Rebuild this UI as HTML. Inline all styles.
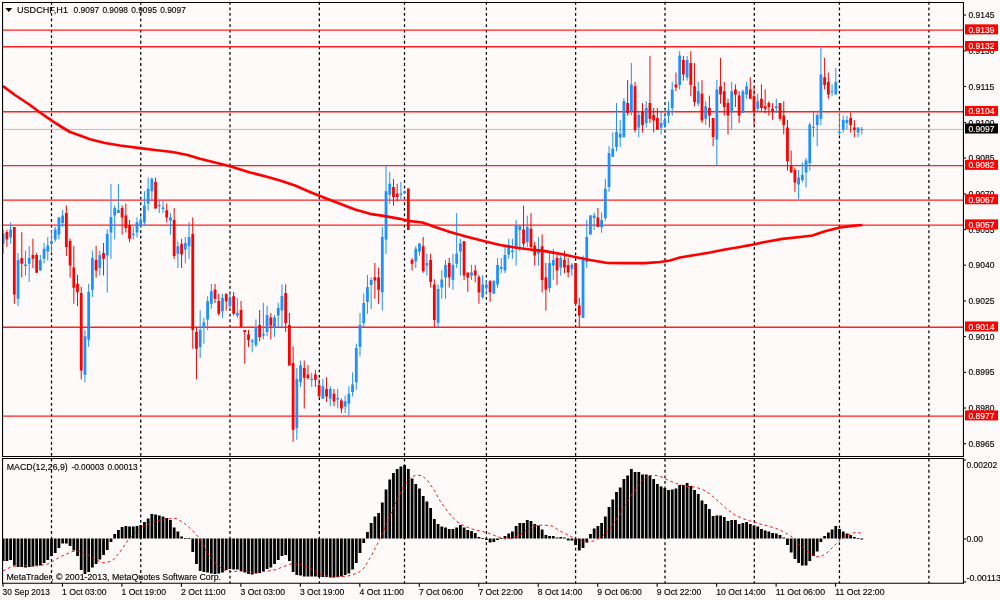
<!DOCTYPE html><html><head><meta charset="utf-8"><title>USDCHF,H1</title>
<style>html,body{margin:0;padding:0;background:#fdfaf9;overflow:hidden}svg{display:block}text{font-family:"Liberation Sans","DejaVu Sans",sans-serif;font-size:9.3px;fill:#000;stroke:#000;stroke-width:.22px;stroke-opacity:.6}.w{fill:#fff;stroke:#fff}</style></head><body>
<svg width="1000" height="600" viewBox="0 0 1000 600">
<rect width="1000" height="600" fill="#fdfaf9"/>
<g stroke="#000" stroke-width="1.25" stroke-dasharray="2.8 2.77" fill="none">
<path d="M51.50 1.85V456.45"/>
<path d="M51.50 458.7V583.25"/>
<path d="M140.75 1.85V456.45"/>
<path d="M140.75 458.7V583.25"/>
<path d="M230.00 1.85V456.45"/>
<path d="M230.00 458.7V583.25"/>
<path d="M319.35 1.85V456.45"/>
<path d="M319.35 458.7V583.25"/>
<path d="M404.50 1.85V456.45"/>
<path d="M404.50 458.7V583.25"/>
<path d="M486.40 1.85V456.45"/>
<path d="M486.40 458.7V583.25"/>
<path d="M575.60 1.85V456.45"/>
<path d="M575.60 458.7V583.25"/>
<path d="M665.00 1.85V456.45"/>
<path d="M665.00 458.7V583.25"/>
<path d="M754.30 1.85V456.45"/>
<path d="M754.30 458.7V583.25"/>
<path d="M839.45 1.85V456.45"/>
<path d="M839.45 458.7V583.25"/>
<path d="M928.90 1.85V456.45"/>
<path d="M928.90 458.7V583.25"/>
</g>
<path d="M3 129.45H963" stroke="#b9b9b9" stroke-width="0.93"/>
<g stroke="#ff2020" stroke-width="1.3">
<path d="M3 30.15H963"/>
<path d="M3 46.75H963"/>
<path d="M3 111.75H963"/>
<path d="M3 165.65H963"/>
<path d="M3 200.05H963"/>
<path d="M3 225.20H963"/>
<path d="M3 327.25H963"/>
<path d="M3 416.20H963"/>
</g>
<clipPath id="cp"><rect x="3.05" y="3" width="960" height="453"/></clipPath><g id="candles" clip-path="url(#cp)">
<path d="M3.18 229.40V253.75M10.61 222.25V243.75M18.05 253.00V306.00M25.48 250.60V275.60M29.20 246.00V282.00M40.35 255.00V270.60M44.07 243.00V263.50M47.78 237.00V260.60M51.50 231.00V252.00M55.22 226.90V241.90M58.94 216.90V239.40M62.65 210.00V226.90M84.95 330.00V382.25M88.67 283.75V346.90M92.39 250.60V297.00M99.82 250.60V275.60M107.26 229.40V292.50M110.97 184.00V258.75M114.69 205.40V239.40M118.41 184.00V213.00M133.28 226.90V239.40M136.99 217.50V237.50M140.71 215.60V226.90M144.43 191.25V225.00M148.14 177.50V210.60M151.86 177.50V201.25M159.29 200.60V213.00M163.01 200.60V213.00M170.45 213.00V234.75M177.88 241.50V268.00M185.31 237.00V263.50M189.03 222.25V258.75M200.18 310.25V358.00M203.90 317.75V343.75M207.62 296.25V330.00M211.33 284.00V308.75M222.48 293.75V318.00M229.92 292.00V310.00M237.35 298.00V318.00M252.22 338.75V351.90M255.94 319.40V346.90M263.37 302.75V339.40M267.09 305.60V336.25M274.52 315.00V336.90M278.24 302.75V327.50M281.96 284.40V327.50M296.82 368.00V439.75M300.54 360.60V386.90M311.69 372.75V386.90M322.84 379.00V398.75M330.28 386.25V406.25M337.71 389.00V408.50M345.14 395.60V413.00M348.86 386.25V415.60M352.58 372.50V396.50M356.30 343.75V390.00M360.01 313.00V356.50M363.73 293.40V327.40M367.45 275.00V313.75M371.16 277.25V309.00M382.31 226.90V310.60M386.03 165.00V254.00M389.75 171.90V203.75M400.90 181.90V199.40M404.62 190.50V194.00M415.77 246.25V268.00M419.48 243.00V255.60M426.92 253.75V275.60M438.07 284.40V327.25M441.79 270.25V298.75M445.50 260.00V298.75M452.94 253.75V289.75M456.65 213.00V268.00M460.37 238.75V275.60M471.52 265.00V280.00M482.67 275.00V298.75M486.39 280.00V293.75M493.82 280.00V293.75M497.54 258.00V287.75M501.26 258.00V273.00M504.98 247.00V273.00M508.69 238.75V258.75M512.41 238.75V258.75M516.13 220.00V265.60M519.84 225.00V251.25M527.28 215.60V247.00M538.43 236.90V265.60M549.58 251.25V292.50M553.30 248.75V280.00M560.73 255.60V275.60M571.88 263.00V275.60M583.03 255.60V318.00M586.75 220.00V268.00M590.47 215.00V234.60M594.18 212.50V230.00M601.62 212.50V232.75M605.33 179.00V220.60M609.05 146.25V191.90M612.77 132.50V156.90M616.49 103.00V151.25M620.20 120.00V146.90M623.92 98.00V137.25M631.35 63.00V115.60M638.79 110.60V137.25M646.22 101.25V127.50M661.09 110.60V134.40M664.81 113.00V127.50M668.52 101.25V123.00M672.24 81.90V115.60M679.67 51.25V89.40M687.11 56.00V80.60M698.26 81.90V106.25M705.69 101.25V125.00M716.84 80.00V165.60M731.71 81.90V129.40M742.86 89.40V113.00M746.58 81.90V98.75M757.73 93.75V111.25M776.32 98.75V113.00M798.62 170.00V199.40M802.33 162.50V182.50M806.05 158.00V187.50M809.77 122.50V170.60M813.49 110.60V136.90M817.20 112.50V146.25M820.92 46.25V125.00M832.07 84.40V96.25M835.79 68.00V94.40M839.50 112.50V136.00M843.22 115.60V132.50M846.94 115.60V129.40M858.09 127.50V137.25M861.81 126.90V134.40" stroke="#1e90ff" stroke-width="1.0" fill="none"/>
<path d="M1.79 233.75h2.79V243.75h-2.79zM9.22 229.40h2.79V237.50h-2.79zM16.65 260.00h2.79V298.75h-2.79zM24.09 264.40h2.79V266.00h-2.79zM27.80 258.00h2.79V263.75h-2.79zM38.95 260.00h2.79V270.60h-2.79zM42.67 248.75h2.79V258.75h-2.79zM46.39 245.60h2.79V251.50h-2.79zM50.11 241.00h2.79V243.75h-2.79zM53.82 229.40h2.79V239.40h-2.79zM57.54 217.50h2.79V234.40h-2.79zM61.26 215.60h2.79V223.00h-2.79zM83.56 336.25h2.79V374.75h-2.79zM87.28 292.00h2.79V339.75h-2.79zM90.99 258.00h2.79V289.75h-2.79zM98.43 255.00h2.79V268.00h-2.79zM105.86 234.00h2.79V255.60h-2.79zM109.58 217.00h2.79V232.50h-2.79zM113.30 208.00h2.79V215.60h-2.79zM117.01 210.00h2.79V213.00h-2.79zM131.88 233.75h2.79V235.00h-2.79zM135.60 222.25h2.79V232.50h-2.79zM139.31 220.00h2.79V225.00h-2.79zM143.03 205.60h2.79V222.50h-2.79zM146.75 188.75h2.79V203.50h-2.79zM150.47 178.75h2.79V191.25h-2.79zM157.90 205.00h2.79V206.25h-2.79zM161.62 207.50h2.79V209.00h-2.79zM169.05 217.50h2.79V220.60h-2.79zM176.48 246.25h2.79V253.75h-2.79zM183.92 243.00h2.79V249.40h-2.79zM187.63 237.00h2.79V246.25h-2.79zM198.79 330.00h2.79V346.90h-2.79zM202.50 322.50h2.79V328.00h-2.79zM206.22 301.25h2.79V319.40h-2.79zM209.94 291.25h2.79V303.75h-2.79zM221.09 298.00h2.79V311.25h-2.79zM228.52 298.00h2.79V306.25h-2.79zM235.96 313.00h2.79V315.60h-2.79zM250.82 340.60h2.79V341.90h-2.79zM254.54 326.90h2.79V345.00h-2.79zM261.98 333.75h2.79V335.60h-2.79zM265.69 315.00h2.79V331.90h-2.79zM273.13 317.50h2.79V327.50h-2.79zM276.84 308.00h2.79V315.60h-2.79zM280.56 296.00h2.79V310.60h-2.79zM295.43 379.00h2.79V428.00h-2.79zM299.15 365.25h2.79V382.25h-2.79zM310.30 378.75h2.79V380.00h-2.79zM321.45 386.25h2.79V398.75h-2.79zM328.88 389.00h2.79V398.75h-2.79zM336.32 398.00h2.79V399.40h-2.79zM343.75 401.25h2.79V406.50h-2.79zM347.47 393.75h2.79V403.75h-2.79zM351.18 384.40h2.79V391.90h-2.79zM354.90 348.00h2.79V382.25h-2.79zM358.62 325.00h2.79V346.90h-2.79zM362.33 302.90h2.79V323.00h-2.79zM366.05 286.90h2.79V301.90h-2.79zM369.77 280.00h2.79V285.00h-2.79zM380.92 236.90h2.79V292.30h-2.79zM384.64 191.25h2.79V239.40h-2.79zM388.35 183.75h2.79V194.75h-2.79zM399.50 193.50h2.79V194.75h-2.79zM403.22 191.25h2.79V193.00h-2.79zM414.37 248.75h2.79V261.25h-2.79zM418.09 243.50h2.79V251.50h-2.79zM425.52 263.00h2.79V265.60h-2.79zM436.67 289.00h2.79V322.75h-2.79zM440.39 279.40h2.79V287.50h-2.79zM444.11 265.00h2.79V277.50h-2.79zM451.54 265.00h2.79V280.00h-2.79zM455.26 253.75h2.79V263.75h-2.79zM458.98 243.50h2.79V251.50h-2.79zM470.13 272.40h2.79V275.60h-2.79zM481.28 284.40h2.79V297.25h-2.79zM485.00 284.40h2.79V287.75h-2.79zM492.43 281.25h2.79V293.75h-2.79zM496.15 265.00h2.79V284.40h-2.79zM499.86 267.00h2.79V268.75h-2.79zM503.58 255.00h2.79V270.60h-2.79zM507.30 245.60h2.79V254.40h-2.79zM511.01 250.60h2.79V252.00h-2.79zM514.73 225.00h2.79V247.00h-2.79zM518.45 226.25h2.79V230.00h-2.79zM525.88 226.90h2.79V241.90h-2.79zM537.03 248.75h2.79V253.75h-2.79zM548.18 263.00h2.79V288.00h-2.79zM551.90 260.00h2.79V265.60h-2.79zM559.34 258.00h2.79V267.50h-2.79zM570.49 264.40h2.79V268.75h-2.79zM581.64 260.00h2.79V318.00h-2.79zM585.35 236.90h2.79V262.00h-2.79zM589.07 215.60h2.79V234.60h-2.79zM592.79 215.60h2.79V218.00h-2.79zM600.22 220.00h2.79V227.25h-2.79zM603.94 188.75h2.79V218.00h-2.79zM607.66 153.00h2.79V186.90h-2.79zM611.37 148.75h2.79V156.70h-2.79zM615.09 131.90h2.79V146.90h-2.79zM618.81 133.75h2.79V137.50h-2.79zM622.52 101.25h2.79V137.25h-2.79zM629.96 84.40h2.79V111.25h-2.79zM637.39 115.00h2.79V127.50h-2.79zM644.83 108.00h2.79V123.00h-2.79zM659.69 123.00h2.79V127.50h-2.79zM663.41 120.00h2.79V125.00h-2.79zM667.13 110.60h2.79V115.60h-2.79zM670.85 89.40h2.79V108.00h-2.79zM678.28 55.60h2.79V85.00h-2.79zM685.71 60.00h2.79V77.50h-2.79zM696.86 91.25h2.79V103.60h-2.79zM704.30 106.25h2.79V118.75h-2.79zM715.45 89.40h2.79V139.40h-2.79zM730.32 91.25h2.79V112.50h-2.79zM741.47 91.25h2.79V113.00h-2.79zM745.18 86.25h2.79V94.40h-2.79zM756.34 101.25h2.79V108.75h-2.79zM774.92 106.25h2.79V108.00h-2.79zM797.22 177.50h2.79V184.40h-2.79zM800.94 175.00h2.79V180.00h-2.79zM804.66 160.60h2.79V172.50h-2.79zM808.37 124.40h2.79V163.00h-2.79zM812.09 126.90h2.79V128.00h-2.79zM815.81 115.00h2.79V125.00h-2.79zM819.52 74.40h2.79V118.75h-2.79zM830.68 91.25h2.79V92.25h-2.79zM834.39 81.90h2.79V94.40h-2.79zM838.11 131.90h2.79V133.00h-2.79zM841.83 120.00h2.79V129.40h-2.79zM845.54 120.00h2.79V123.00h-2.79zM856.69 127.50h2.79V132.50h-2.79zM860.41 129.00h2.79V130.00h-2.79z" fill="#1e90ff"/>
<path d="M6.90 229.75V247.00M14.33 227.00V303.75M21.77 232.00V277.50M32.92 238.75V268.00M36.63 253.00V272.75M66.37 205.40V256.00M70.09 238.50V277.50M73.80 246.00V303.75M77.52 275.00V306.00M81.24 287.00V379.40M96.11 246.00V277.50M103.54 243.00V275.60M122.12 205.40V234.40M125.84 203.75V232.50M129.56 220.00V242.25M155.58 177.50V208.50M166.73 203.50V222.50M174.16 208.00V258.75M181.60 238.75V268.00M192.75 217.50V348.75M196.46 327.50V379.40M215.05 284.00V303.00M218.77 293.75V315.60M226.20 293.75V310.60M233.63 292.00V315.60M241.07 301.00V326.90M244.79 330.00V363.75M248.50 330.00V346.90M259.65 310.00V341.25M270.80 313.00V339.40M285.67 284.40V331.90M289.39 313.00V365.60M293.11 346.25V441.90M304.26 360.60V408.50M307.97 365.25V379.75M315.41 370.00V386.90M319.12 379.00V396.50M326.56 377.25V401.90M333.99 389.00V406.25M341.43 398.50V413.00M374.88 263.00V298.75M378.60 267.50V303.75M393.47 179.00V205.60M397.18 183.75V201.25M408.33 188.50V230.00M412.05 258.00V270.60M423.20 236.90V272.90M430.63 253.75V287.50M434.35 279.40V327.25M449.22 258.00V287.50M464.09 241.25V280.00M467.81 272.50V291.90M475.24 265.00V282.25M478.96 275.00V303.75M490.11 280.00V301.90M523.56 205.60V247.00M530.99 213.00V248.75M534.71 241.90V265.60M542.14 234.40V292.50M545.86 263.00V310.60M557.01 255.00V284.75M564.45 250.60V273.00M568.16 258.00V277.50M575.60 263.00V306.25M579.31 298.00V327.50M597.90 208.00V226.90M627.64 80.00V115.60M635.07 81.90V132.50M642.50 103.00V132.50M649.94 56.00V123.00M653.65 108.00V132.50M657.37 108.00V129.75M675.96 72.50V91.25M683.39 56.00V80.60M690.82 51.25V96.25M694.54 63.00V106.25M701.98 80.00V123.00M709.41 95.60V127.50M713.13 118.00V146.25M720.56 58.00V103.75M724.28 81.90V115.60M728.00 98.75V134.40M735.43 84.40V106.90M739.15 91.25V123.00M750.30 77.25V98.75M754.01 86.25V125.60M761.45 84.40V111.25M765.16 89.40V113.00M768.88 101.25V115.60M772.60 103.00V120.00M780.03 103.00V120.60M783.75 101.25V134.40M787.47 120.00V170.60M791.18 150.60V172.50M794.90 167.50V191.90M824.64 57.75V89.40M828.35 72.50V98.75M850.66 112.50V132.50M854.37 120.00V137.25" stroke="#ff0000" stroke-width="1.0" fill="none"/>
<path d="M5.50 231.90h2.79V239.40h-2.79zM12.94 227.00h2.79V294.40h-2.79zM20.37 258.00h2.79V263.75h-2.79zM31.52 255.00h2.79V258.75h-2.79zM35.24 255.00h2.79V272.75h-2.79zM64.97 213.00h2.79V246.90h-2.79zM68.69 241.00h2.79V265.60h-2.79zM72.41 267.50h2.79V287.75h-2.79zM76.13 283.75h2.79V292.25h-2.79zM79.84 293.00h2.79V370.60h-2.79zM94.71 260.00h2.79V270.60h-2.79zM102.14 253.00h2.79V258.75h-2.79zM120.73 208.00h2.79V217.50h-2.79zM124.45 215.60h2.79V228.00h-2.79zM128.16 225.00h2.79V238.75h-2.79zM154.18 181.90h2.79V208.50h-2.79zM165.33 210.25h2.79V217.50h-2.79zM172.77 220.00h2.79V256.00h-2.79zM180.20 243.75h2.79V254.40h-2.79zM191.35 234.00h2.79V330.00h-2.79zM195.07 331.90h2.79V348.75h-2.79zM213.65 289.40h2.79V298.75h-2.79zM217.37 301.00h2.79V313.75h-2.79zM224.81 293.75h2.79V301.25h-2.79zM232.24 296.25h2.79V313.75h-2.79zM239.67 310.00h2.79V326.90h-2.79zM243.39 330.00h2.79V332.00h-2.79zM247.11 334.40h2.79V340.00h-2.79zM258.26 325.00h2.79V336.90h-2.79zM269.41 317.50h2.79V325.60h-2.79zM284.28 293.00h2.79V323.00h-2.79zM287.99 325.00h2.79V365.60h-2.79zM291.71 363.00h2.79V429.75h-2.79zM302.86 368.00h2.79V377.75h-2.79zM306.58 374.40h2.79V378.00h-2.79zM314.01 374.40h2.79V379.75h-2.79zM317.73 385.00h2.79V396.50h-2.79zM325.16 389.00h2.79V396.50h-2.79zM332.60 393.75h2.79V401.50h-2.79zM340.03 400.60h2.79V408.50h-2.79zM373.49 277.25h2.79V280.60h-2.79zM377.20 277.25h2.79V289.75h-2.79zM392.07 186.90h2.79V196.90h-2.79zM395.79 193.75h2.79V196.90h-2.79zM406.94 188.50h2.79V230.00h-2.79zM410.66 260.00h2.79V263.75h-2.79zM421.81 246.25h2.79V271.25h-2.79zM429.24 260.00h2.79V281.90h-2.79zM432.96 284.40h2.79V320.00h-2.79zM447.83 263.00h2.79V277.50h-2.79zM462.69 241.25h2.79V275.60h-2.79zM466.41 272.50h2.79V277.50h-2.79zM473.84 270.60h2.79V275.60h-2.79zM477.56 276.90h2.79V292.50h-2.79zM488.71 281.25h2.79V292.25h-2.79zM522.16 229.40h2.79V243.75h-2.79zM529.60 228.75h2.79V247.00h-2.79zM533.32 245.60h2.79V255.60h-2.79zM540.75 246.25h2.79V280.00h-2.79zM544.47 277.50h2.79V289.40h-2.79zM555.62 258.00h2.79V270.60h-2.79zM563.05 260.00h2.79V267.50h-2.79zM566.77 265.00h2.79V272.50h-2.79zM574.20 263.00h2.79V303.75h-2.79zM577.92 305.60h2.79V315.60h-2.79zM596.50 217.50h2.79V226.90h-2.79zM626.24 103.00h2.79V113.00h-2.79zM633.67 86.25h2.79V130.00h-2.79zM641.11 111.90h2.79V125.00h-2.79zM648.54 103.00h2.79V118.75h-2.79zM652.26 115.00h2.79V120.60h-2.79zM655.98 118.00h2.79V129.75h-2.79zM674.56 84.40h2.79V87.50h-2.79zM682.00 60.00h2.79V74.40h-2.79zM689.43 63.00h2.79V85.00h-2.79zM693.15 86.25h2.79V101.90h-2.79zM700.58 93.75h2.79V120.60h-2.79zM708.01 108.00h2.79V115.60h-2.79zM711.73 118.00h2.79V136.90h-2.79zM719.17 86.25h2.79V94.40h-2.79zM722.88 91.25h2.79V106.90h-2.79zM726.60 103.00h2.79V115.60h-2.79zM734.03 89.40h2.79V94.40h-2.79zM737.75 95.60h2.79V115.60h-2.79zM748.90 89.40h2.79V98.75h-2.79zM752.62 96.25h2.79V111.25h-2.79zM760.05 98.75h2.79V108.00h-2.79zM763.77 106.25h2.79V108.75h-2.79zM767.49 103.00h2.79V106.90h-2.79zM771.20 108.75h2.79V111.25h-2.79zM778.64 103.00h2.79V118.75h-2.79zM782.36 115.60h2.79V125.00h-2.79zM786.07 127.50h2.79V161.25h-2.79zM789.79 165.60h2.79V172.50h-2.79zM793.51 170.00h2.79V182.50h-2.79zM823.24 77.25h2.79V85.00h-2.79zM826.96 81.90h2.79V94.40h-2.79zM849.26 118.00h2.79V125.00h-2.79zM852.98 127.50h2.79V130.00h-2.79z" fill="#ff0000"/>
</g>
<polyline points="3.0,86.2 15.0,95.0 30.0,105.0 40.0,112.5 52.5,121.2 62.5,127.5 70.0,132.0 80.0,135.5 90.0,139.2 105.0,143.0 120.0,145.5 140.0,148.2 155.0,150.0 172.5,152.0 187.5,155.0 200.0,158.8 215.0,162.5 230.0,166.2 250.0,172.5 265.0,176.2 280.0,180.5 295.0,185.5 310.0,192.0 325.0,198.0 340.0,203.8 355.0,209.5 370.0,213.8 385.0,216.2 400.0,218.8 410.0,221.2 422.5,222.5 435.0,227.0 450.0,232.0 465.0,236.2 482.5,240.8 500.0,245.0 515.0,247.5 530.0,249.5 545.0,251.2 560.0,253.8 575.0,257.0 590.0,260.0 607.5,263.0 625.0,263.2 645.0,263.2 660.0,262.0 670.0,260.5 680.0,257.5 695.0,255.0 710.0,252.5 725.0,249.5 740.0,247.0 750.0,245.2 765.0,242.0 782.5,238.8 800.0,237.0 812.5,235.5 825.0,231.2 840.0,227.5 852.5,225.8 862.5,225.0" fill="none" stroke="#ff0000" stroke-width="2.7" stroke-linejoin="round" stroke-linecap="butt"/>
<path d="M3.00 538.60H4.58V561.00H3.00zM5.50 538.60H8.29V561.00H5.50zM9.22 538.60H12.01V560.00H9.22zM12.94 538.60H15.73V565.60H12.94zM16.65 538.60H19.44V567.00H16.65zM20.37 538.60H23.16V567.00H20.37zM24.09 538.60H26.88V567.60H24.09zM27.80 538.60H30.59V567.00H27.80zM31.52 538.60H34.31V566.40H31.52zM35.24 538.60H38.03V565.60H35.24zM38.95 538.60H41.75V565.60H38.95zM42.67 538.60H45.46V563.00H42.67zM46.39 538.60H49.18V560.00H46.39zM50.11 538.60H52.90V556.00H50.11zM53.82 538.60H56.61V553.00H53.82zM57.54 538.60H60.33V548.00H57.54zM61.26 538.60H64.05V543.60H61.26zM64.97 538.60H67.76V543.60H64.97zM68.69 538.60H71.48V546.00H68.69zM72.41 538.60H75.20V550.40H72.41zM76.13 538.60H78.92V556.00H76.13zM79.84 538.60H82.63V570.00H79.84zM83.56 538.60H86.35V574.00H83.56zM87.28 538.60H90.07V572.00H87.28zM90.99 538.60H93.78V567.60H90.99zM94.71 538.60H97.50V564.00H94.71zM98.43 538.60H101.22V559.60H98.43zM102.14 538.60H104.93V555.00H102.14zM105.86 538.60H108.65V550.00H105.86zM109.58 538.60H112.37V542.00H109.58zM113.30 534.00H116.09V538.60H113.30zM117.01 530.00H119.80V538.60H117.01zM120.73 527.00H123.52V538.60H120.73zM124.45 526.00H127.24V538.60H124.45zM128.16 526.40H130.95V538.60H128.16zM131.88 526.40H134.67V538.60H131.88zM135.60 526.00H138.39V538.60H135.60zM139.31 525.00H142.10V538.60H139.31zM143.03 522.00H145.82V538.60H143.03zM146.75 518.40H149.54V538.60H146.75zM150.47 514.00H153.26V538.60H150.47zM154.18 514.60H156.97V538.60H154.18zM157.90 515.40H160.69V538.60H157.90zM161.62 516.40H164.41V538.60H161.62zM165.33 518.00H168.12V538.60H165.33zM169.05 520.00H171.84V538.60H169.05zM172.77 527.60H175.56V538.60H172.77zM176.48 531.60H179.27V538.60H176.48zM180.20 536.40H182.99V538.60H180.20zM183.92 538.15H186.71V539.05H183.92zM187.63 538.15H190.43V539.05H187.63zM191.35 538.60H194.14V552.00H191.35zM195.07 538.60H197.86V564.00H195.07zM198.79 538.60H201.58V571.00H198.79zM202.50 538.60H205.29V572.00H202.50zM206.22 538.60H209.01V572.40H206.22zM209.94 538.60H212.73V573.60H209.94zM213.65 538.60H216.44V574.00H213.65zM217.37 538.60H220.16V573.60H217.37zM221.09 538.60H223.88V572.40H221.09zM224.81 538.60H227.60V570.00H224.81zM228.52 538.60H231.31V569.00H228.52zM232.24 538.60H235.03V569.60H232.24zM235.96 538.60H238.75V569.60H235.96zM239.67 538.60H242.46V571.00H239.67zM243.39 538.60H246.18V572.40H243.39zM247.11 538.60H249.90V574.00H247.11zM250.82 538.60H253.61V574.40H250.82zM254.54 538.60H257.33V573.60H254.54zM258.26 538.60H261.05V573.00H258.26zM261.98 538.60H264.76V571.00H261.98zM265.69 538.60H268.48V569.00H265.69zM269.41 538.60H272.20V567.60H269.41zM273.13 538.60H275.92V564.00H273.13zM276.84 538.60H279.63V560.00H276.84zM280.56 538.60H283.35V556.00H280.56zM284.28 538.60H287.07V555.00H284.28zM287.99 538.60H290.78V561.00H287.99zM291.71 538.60H294.50V572.00H291.71zM295.43 538.60H298.22V575.00H295.43zM299.15 538.60H301.94V575.60H299.15zM302.86 538.60H305.65V576.40H302.86zM306.58 538.60H309.37V576.40H306.58zM310.30 538.60H313.09V576.40H310.30zM314.01 538.60H316.80V576.40H314.01zM317.73 538.60H320.52V577.00H317.73zM321.45 538.60H324.24V577.00H321.45zM325.16 538.60H327.95V577.00H325.16zM328.88 538.60H331.67V577.40H328.88zM332.60 538.60H335.39V577.40H332.60zM336.32 538.60H339.11V577.00H336.32zM340.03 538.60H342.82V576.40H340.03zM343.75 538.60H346.54V575.00H343.75zM347.47 538.60H350.26V573.60H347.47zM351.18 538.60H353.97V569.60H351.18zM354.90 538.60H357.69V563.00H354.90zM358.62 538.60H361.41V553.00H358.62zM362.33 538.60H365.12V543.00H362.33zM366.05 532.00H368.84V538.60H366.05zM369.77 523.00H372.56V538.60H369.77zM373.49 516.40H376.27V538.60H373.49zM377.20 513.00H379.99V538.60H377.20zM380.92 502.40H383.71V538.60H380.92zM384.64 489.60H387.43V538.60H384.64zM388.35 479.60H391.14V538.60H388.35zM392.07 473.00H394.86V538.60H392.07zM395.79 469.00H398.58V538.60H395.79zM399.50 466.40H402.29V538.60H399.50zM403.22 465.00H406.01V538.60H403.22zM406.94 469.00H409.73V538.60H406.94zM410.66 478.40H413.44V538.60H410.66zM414.37 484.00H417.16V538.60H414.37zM418.09 488.60H420.88V538.60H418.09zM421.81 496.00H424.60V538.60H421.81zM425.52 501.60H428.31V538.60H425.52zM429.24 508.00H432.03V538.60H429.24zM432.96 519.00H435.75V538.60H432.96zM436.67 524.00H439.46V538.60H436.67zM440.39 526.40H443.18V538.60H440.39zM444.11 527.60H446.90V538.60H444.11zM447.83 529.00H450.62V538.60H447.83zM451.54 529.00H454.33V538.60H451.54zM455.26 527.60H458.05V538.60H455.26zM458.98 525.00H461.77V538.60H458.98zM462.69 527.60H465.48V538.60H462.69zM466.41 530.00H469.20V538.60H466.41zM470.13 531.00H472.92V538.60H470.13zM473.84 533.00H476.63V538.60H473.84zM477.56 537.00H480.35V538.60H477.56zM481.28 538.15H484.07V539.05H481.28zM485.00 538.60H487.79V540.00H485.00zM488.71 538.60H491.50V542.40H488.71zM492.43 538.60H495.22V542.00H492.43zM496.15 538.60H498.94V540.00H496.15zM499.86 538.15H502.65V539.05H499.86zM503.58 536.00H506.37V538.60H503.58zM507.30 533.60H510.09V538.60H507.30zM511.01 531.60H513.80V538.60H511.01zM514.73 526.00H517.52V538.60H514.73zM518.45 523.00H521.24V538.60H518.45zM522.16 523.00H524.95V538.60H522.16zM525.88 520.00H528.67V538.60H525.88zM529.60 521.00H532.39V538.60H529.60zM533.32 524.00H536.11V538.60H533.32zM537.03 525.60H539.82V538.60H537.03zM540.75 529.60H543.54V538.60H540.75zM544.47 535.00H547.26V538.60H544.47zM548.18 536.00H550.97V538.60H548.18zM551.90 536.00H554.69V538.60H551.90zM555.62 537.60H558.41V538.60H555.62zM559.34 537.00H562.12V538.60H559.34zM563.05 537.60H565.84V538.60H563.05zM566.77 538.60H569.56V540.40H566.77zM570.49 538.60H573.28V540.40H570.49zM574.20 538.60H576.99V545.00H574.20zM577.92 538.60H580.71V550.40H577.92zM581.64 538.60H584.43V548.00H581.64zM585.35 538.60H588.14V542.40H585.35zM589.07 534.00H591.86V538.60H589.07zM592.79 528.40H595.58V538.60H592.79zM596.50 526.00H599.29V538.60H596.50zM600.22 523.00H603.01V538.60H600.22zM603.94 516.40H606.73V538.60H603.94zM607.66 507.00H610.45V538.60H607.66zM611.37 499.60H614.16V538.60H611.37zM615.09 492.00H617.88V538.60H615.09zM618.81 487.60H621.60V538.60H618.81zM622.52 479.00H625.31V538.60H622.52zM626.24 475.60H629.03V538.60H626.24zM629.96 469.00H632.75V538.60H629.96zM633.67 472.00H636.46V538.60H633.67zM637.39 472.00H640.18V538.60H637.39zM641.11 474.40H643.90V538.60H641.11zM644.83 474.40H647.62V538.60H644.83zM648.54 475.60H651.33V538.60H648.54zM652.26 479.00H655.05V538.60H652.26zM655.98 484.00H658.77V538.60H655.98zM659.69 486.40H662.48V538.60H659.69zM663.41 488.00H666.20V538.60H663.41zM667.13 490.00H669.92V538.60H667.13zM670.85 489.60H673.63V538.60H670.85zM674.56 488.40H677.35V538.60H674.56zM678.28 485.00H681.07V538.60H678.28zM682.00 485.00H684.79V538.60H682.00zM685.71 483.00H688.50V538.60H685.71zM689.43 486.00H692.22V538.60H689.43zM693.15 490.00H695.94V538.60H693.15zM696.86 494.00H699.65V538.60H696.86zM700.58 500.40H703.37V538.60H700.58zM704.30 504.00H707.09V538.60H704.30zM708.01 509.00H710.80V538.60H708.01zM711.73 516.00H714.52V538.60H711.73zM715.45 515.60H718.24V538.60H715.45zM719.17 515.60H721.96V538.60H719.17zM722.88 517.00H725.67V538.60H722.88zM726.60 521.00H729.39V538.60H726.60zM730.32 520.00H733.11V538.60H730.32zM734.03 520.00H736.82V538.60H734.03zM737.75 524.00H740.54V538.60H737.75zM741.47 523.00H744.26V538.60H741.47zM745.18 522.00H747.97V538.60H745.18zM748.90 524.00H751.69V538.60H748.90zM752.62 525.60H755.41V538.60H752.62zM756.34 526.40H759.13V538.60H756.34zM760.05 529.00H762.84V538.60H760.05zM763.77 530.40H766.56V538.60H763.77zM767.49 531.60H770.28V538.60H767.49zM771.20 533.00H773.99V538.60H771.20zM774.92 533.60H777.71V538.60H774.92zM778.64 535.00H781.43V538.60H778.64zM782.36 537.60H785.14V538.60H782.36zM786.07 538.60H788.86V545.00H786.07zM789.79 538.60H792.58V552.40H789.79zM793.51 538.60H796.30V559.00H793.51zM797.22 538.60H800.01V563.00H797.22zM800.94 538.60H803.73V565.60H800.94zM804.66 538.60H807.45V565.60H804.66zM808.37 538.60H811.16V561.00H808.37zM812.09 538.60H814.88V556.00H812.09zM815.81 538.60H818.60V551.60H815.81zM819.52 538.60H822.31V542.00H819.52zM823.24 536.00H826.03V538.60H823.24zM826.96 532.40H829.75V538.60H826.96zM830.68 529.60H833.47V538.60H830.68zM834.39 526.00H837.18V538.60H834.39zM838.11 529.00H840.90V538.60H838.11zM841.83 531.60H844.62V538.60H841.83zM845.54 533.60H848.33V538.60H845.54zM849.26 535.00H852.05V538.60H849.26zM852.98 537.00H855.77V538.60H852.98zM856.69 538.15H859.48V539.05H856.69zM860.41 538.60H863.20V539.60H860.41z" fill="#000"/>
<polyline points="3.0,571.0 12.0,566.4 24.0,565.6 36.0,566.0 48.0,564.0 60.0,557.0 72.0,551.6 80.0,551.0 88.0,555.0 96.0,560.0 104.0,563.0 112.0,561.0 120.0,552.0 128.0,540.0 140.0,528.0 152.0,522.0 164.0,519.0 176.0,518.4 184.0,523.0 192.0,530.0 200.0,539.0 208.0,554.0 216.0,564.0 224.0,570.0 232.0,571.6 244.0,571.0 256.0,572.4 268.0,571.0 276.0,569.6 284.0,566.4 292.0,563.6 300.0,564.0 308.0,567.0 316.0,572.0 324.0,575.6 336.0,577.0 348.0,576.0 358.0,573.0 364.0,568.0 370.0,558.0 376.0,547.0 380.0,538.6 386.0,525.0 392.0,511.0 398.0,498.0 404.0,486.0 410.0,478.0 416.0,475.0 422.0,475.6 428.0,481.0 434.0,490.0 440.0,501.0 448.0,512.0 456.0,521.0 464.0,526.0 472.0,529.0 480.0,531.0 488.0,533.0 496.0,536.0 504.0,539.0 512.0,538.0 520.0,535.0 528.0,529.0 536.0,525.6 544.0,525.0 552.0,526.0 560.0,531.0 568.0,535.0 570.0,536.0 578.0,540.0 586.0,542.0 594.0,541.0 602.0,537.0 610.0,529.0 618.0,517.0 626.0,504.0 634.0,491.0 642.0,481.0 648.0,476.0 654.0,475.0 662.0,477.0 670.0,481.0 678.0,484.0 686.0,486.4 694.0,487.0 702.0,489.0 710.0,494.0 718.0,501.0 726.0,508.4 734.0,514.4 742.0,518.4 750.0,521.0 758.0,523.0 760.0,524.0 768.0,526.0 776.0,528.4 784.0,532.0 792.0,537.0 800.0,545.6 808.0,552.0 816.0,557.0 822.0,556.0 828.0,552.0 834.0,546.0 840.0,540.0 846.0,535.6 852.0,533.0 858.0,532.4 862.0,533.6" fill="none" stroke="#ff0000" stroke-width="0.93" stroke-dasharray="2.8 2.8"/>
<g stroke="#000" stroke-width="1.1" fill="none">
<path d="M2.55 2.05V456.95M2.55 458.05V583.75"/>
<path d="M963.45 2.05V456.95M963.45 458.05V583.75"/>
<path d="M2.55 2.55H963.45"/>
<path d="M2.55 456.45H963.45"/>
<path d="M2.55 458.55H963.45"/>
<path d="M2.55 583.25H963.45"/>
<path d="M963.45 15.00h2.5"/>
<path d="M963.45 50.80h2.5"/>
<path d="M963.45 86.50h2.5"/>
<path d="M963.45 122.60h2.5"/>
<path d="M963.45 158.00h2.5"/>
<path d="M963.45 194.00h2.5"/>
<path d="M963.45 229.60h2.5"/>
<path d="M963.45 265.20h2.5"/>
<path d="M963.45 301.00h2.5"/>
<path d="M963.45 336.60h2.5"/>
<path d="M963.45 372.40h2.5"/>
<path d="M963.45 408.00h2.5"/>
<path d="M963.45 443.70h2.5"/>
<path d="M963.45 460.00h2.6"/>
<path d="M963.45 538.90h2.6"/>
<path d="M963.45 582.00h2.6"/>
<path d="M2.98 583.25v3.6"/>
<path d="M62.45 583.25v3.6"/>
<path d="M121.92 583.25v3.6"/>
<path d="M181.40 583.25v3.6"/>
<path d="M240.87 583.25v3.6"/>
<path d="M300.34 583.25v3.6"/>
<path d="M359.81 583.25v3.6"/>
<path d="M419.28 583.25v3.6"/>
<path d="M478.76 583.25v3.6"/>
<path d="M538.23 583.25v3.6"/>
<path d="M597.70 583.25v3.6"/>
<path d="M657.17 583.25v3.6"/>
<path d="M716.64 583.25v3.6"/>
<path d="M776.12 583.25v3.6"/>
<path d="M835.59 583.25v3.6"/>
</g>
<text x="968.4" y="18.0" textLength="26.0" lengthAdjust="spacingAndGlyphs">0.9145</text>
<text x="968.4" y="53.8" textLength="26.0" lengthAdjust="spacingAndGlyphs">0.9130</text>
<text x="968.4" y="89.5" textLength="26.0" lengthAdjust="spacingAndGlyphs">0.9115</text>
<text x="968.4" y="125.6" textLength="26.0" lengthAdjust="spacingAndGlyphs">0.9100</text>
<text x="968.4" y="161.0" textLength="26.0" lengthAdjust="spacingAndGlyphs">0.9085</text>
<text x="968.4" y="197.0" textLength="26.0" lengthAdjust="spacingAndGlyphs">0.9070</text>
<text x="968.4" y="232.6" textLength="26.0" lengthAdjust="spacingAndGlyphs">0.9055</text>
<text x="968.4" y="268.2" textLength="26.0" lengthAdjust="spacingAndGlyphs">0.9040</text>
<text x="968.4" y="304.0" textLength="26.0" lengthAdjust="spacingAndGlyphs">0.9025</text>
<text x="968.4" y="339.6" textLength="26.0" lengthAdjust="spacingAndGlyphs">0.9010</text>
<text x="968.4" y="375.4" textLength="26.0" lengthAdjust="spacingAndGlyphs">0.8995</text>
<text x="968.4" y="411.0" textLength="26.0" lengthAdjust="spacingAndGlyphs">0.8980</text>
<text x="968.4" y="446.7" textLength="26.0" lengthAdjust="spacingAndGlyphs">0.8965</text>
<text x="966.5" y="468.4" textLength="30.6" lengthAdjust="spacingAndGlyphs">0.00202</text>
<text x="966.5" y="541.9" textLength="16.6" lengthAdjust="spacingAndGlyphs">0.00</text>
<text x="966.5" y="581.3" textLength="34.5" lengthAdjust="spacingAndGlyphs">-0.00113</text>
<rect x="965" y="24.35" width="33" height="10" fill="#ff0000"/>
<text x="968.4" y="32.5" textLength="26.0" lengthAdjust="spacingAndGlyphs" class="w">0.9139</text>
<rect x="965" y="40.95" width="33" height="10" fill="#ff0000"/>
<text x="968.4" y="49.1" textLength="26.0" lengthAdjust="spacingAndGlyphs" class="w">0.9132</text>
<rect x="965" y="105.95" width="33" height="10" fill="#ff0000"/>
<text x="968.4" y="114.2" textLength="26.0" lengthAdjust="spacingAndGlyphs" class="w">0.9104</text>
<rect x="965" y="159.85" width="33" height="10" fill="#ff0000"/>
<text x="968.4" y="168.1" textLength="26.0" lengthAdjust="spacingAndGlyphs" class="w">0.9082</text>
<rect x="965" y="194.25" width="33" height="10" fill="#ff0000"/>
<text x="968.4" y="202.5" textLength="26.0" lengthAdjust="spacingAndGlyphs" class="w">0.9067</text>
<rect x="965" y="219.40" width="33" height="10" fill="#ff0000"/>
<text x="968.4" y="227.6" textLength="26.0" lengthAdjust="spacingAndGlyphs" class="w">0.9057</text>
<rect x="965" y="321.45" width="33" height="10" fill="#ff0000"/>
<text x="968.4" y="329.6" textLength="26.0" lengthAdjust="spacingAndGlyphs" class="w">0.9014</text>
<rect x="965" y="410.40" width="33" height="10" fill="#ff0000"/>
<text x="968.4" y="418.6" textLength="26.0" lengthAdjust="spacingAndGlyphs" class="w">0.8977</text>
<rect x="965" y="123.5" width="33" height="10" fill="#000"/>
<text x="968.4" y="131.9" textLength="26.0" lengthAdjust="spacingAndGlyphs" class="w">0.9097</text>
<text x="2.6" y="595.3" textLength="47.3" lengthAdjust="spacingAndGlyphs">30 Sep 2013</text>
<text x="62.1" y="595.3" textLength="44.5" lengthAdjust="spacingAndGlyphs">1 Oct 03:00</text>
<text x="121.5" y="595.3" textLength="44.5" lengthAdjust="spacingAndGlyphs">1 Oct 19:00</text>
<text x="181.0" y="595.3" textLength="44.5" lengthAdjust="spacingAndGlyphs">2 Oct 11:00</text>
<text x="240.5" y="595.3" textLength="44.5" lengthAdjust="spacingAndGlyphs">3 Oct 03:00</text>
<text x="299.9" y="595.3" textLength="44.5" lengthAdjust="spacingAndGlyphs">3 Oct 19:00</text>
<text x="359.4" y="595.3" textLength="44.5" lengthAdjust="spacingAndGlyphs">4 Oct 11:00</text>
<text x="418.9" y="595.3" textLength="44.5" lengthAdjust="spacingAndGlyphs">7 Oct 06:00</text>
<text x="478.4" y="595.3" textLength="44.5" lengthAdjust="spacingAndGlyphs">7 Oct 22:00</text>
<text x="537.8" y="595.3" textLength="44.5" lengthAdjust="spacingAndGlyphs">8 Oct 14:00</text>
<text x="597.3" y="595.3" textLength="44.5" lengthAdjust="spacingAndGlyphs">9 Oct 06:00</text>
<text x="656.8" y="595.3" textLength="44.5" lengthAdjust="spacingAndGlyphs">9 Oct 22:00</text>
<text x="716.2" y="595.3" textLength="49.4" lengthAdjust="spacingAndGlyphs">10 Oct 14:00</text>
<text x="775.7" y="595.3" textLength="49.4" lengthAdjust="spacingAndGlyphs">11 Oct 06:00</text>
<text x="835.2" y="595.3" textLength="49.4" lengthAdjust="spacingAndGlyphs">11 Oct 22:00</text>
<path d="M5.3 7.9h7l-3.5 4.1z" fill="#000"/>
<text x="17.0" y="12.9" textLength="51.0" lengthAdjust="spacingAndGlyphs">USDCHF,H1</text>
<text x="73.6" y="12.9" textLength="25.6" lengthAdjust="spacingAndGlyphs">0.9097</text>
<text x="102.4" y="12.9" textLength="25.6" lengthAdjust="spacingAndGlyphs">0.9098</text>
<text x="131.2" y="12.9" textLength="25.6" lengthAdjust="spacingAndGlyphs">0.9095</text>
<text x="160.2" y="12.9" textLength="25.6" lengthAdjust="spacingAndGlyphs">0.9097</text>
<text x="6.8" y="470.0" textLength="61.0" lengthAdjust="spacingAndGlyphs">MACD(12,26,9)</text>
<text x="71.4" y="470.0" textLength="32.8" lengthAdjust="spacingAndGlyphs">-0.00003</text>
<text x="107.4" y="470.0" textLength="30.2" lengthAdjust="spacingAndGlyphs">0.00013</text>
<text x="6.5" y="579.6" textLength="214.5" lengthAdjust="spacingAndGlyphs">MetaTrader, © 2001-2013, MetaQuotes Software Corp.</text>
</svg></body></html>
